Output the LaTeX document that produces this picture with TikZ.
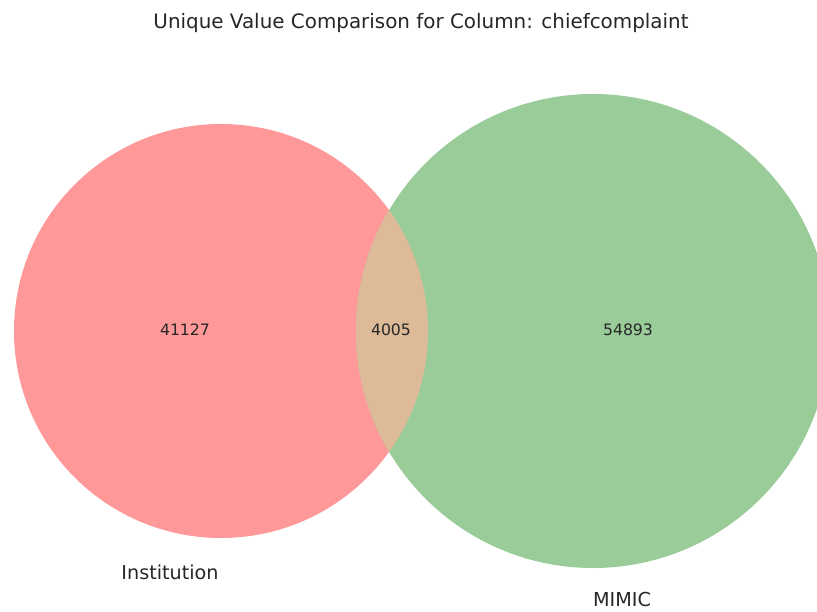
\documentclass[tikz,border=0pt]{standalone}
\usepackage{fontspec}
\setmainfont{DejaVu Sans}
\definecolor{instred}{HTML}{FF9999}
\definecolor{mimicgreen}{HTML}{99CC99}
\definecolor{overlaptan}{HTML}{DDBB99}
\begin{document}
\begin{tikzpicture}[x=1pt,y=-1pt,
    count/.style={font=\fontsize{15.7}{18}\selectfont, text=black!85},
    setlabel/.style={font=\fontsize{19.2}{22}\selectfont, text=black!85}]
    \useasboundingbox (0,0) rectangle (817,612);
    \clip (0,0) rectangle (817,612);
    \coordinate (inst) at (221,331);
    \coordinate (mimic) at (593,331);
    \fill[instred] (inst) circle (207pt);
    \fill[mimicgreen] (mimic) circle (237pt);
    \begin{scope}
        \clip (inst) circle (207pt);
        \fill[overlaptan] (mimic) circle (237pt);
    \end{scope}
    % subset counts
    \node[count] (onlyinst) at (185,330) {41127};
    \node[count] (both) at (391,330) {4005};
    \node[count] (onlymimic) at (628,330) {54893};
    % set names
    \node[setlabel] (instname) at (170,572) {Institution};
    \node[setlabel] (mimicname) at (622,600) {MIMIC};
    \node[setlabel, font=\fontsize{19.9}{22}\selectfont] (title) at (421,23) {Unique Value Comparison for Column: chiefcomplaint};
\end{tikzpicture}
\end{document}
